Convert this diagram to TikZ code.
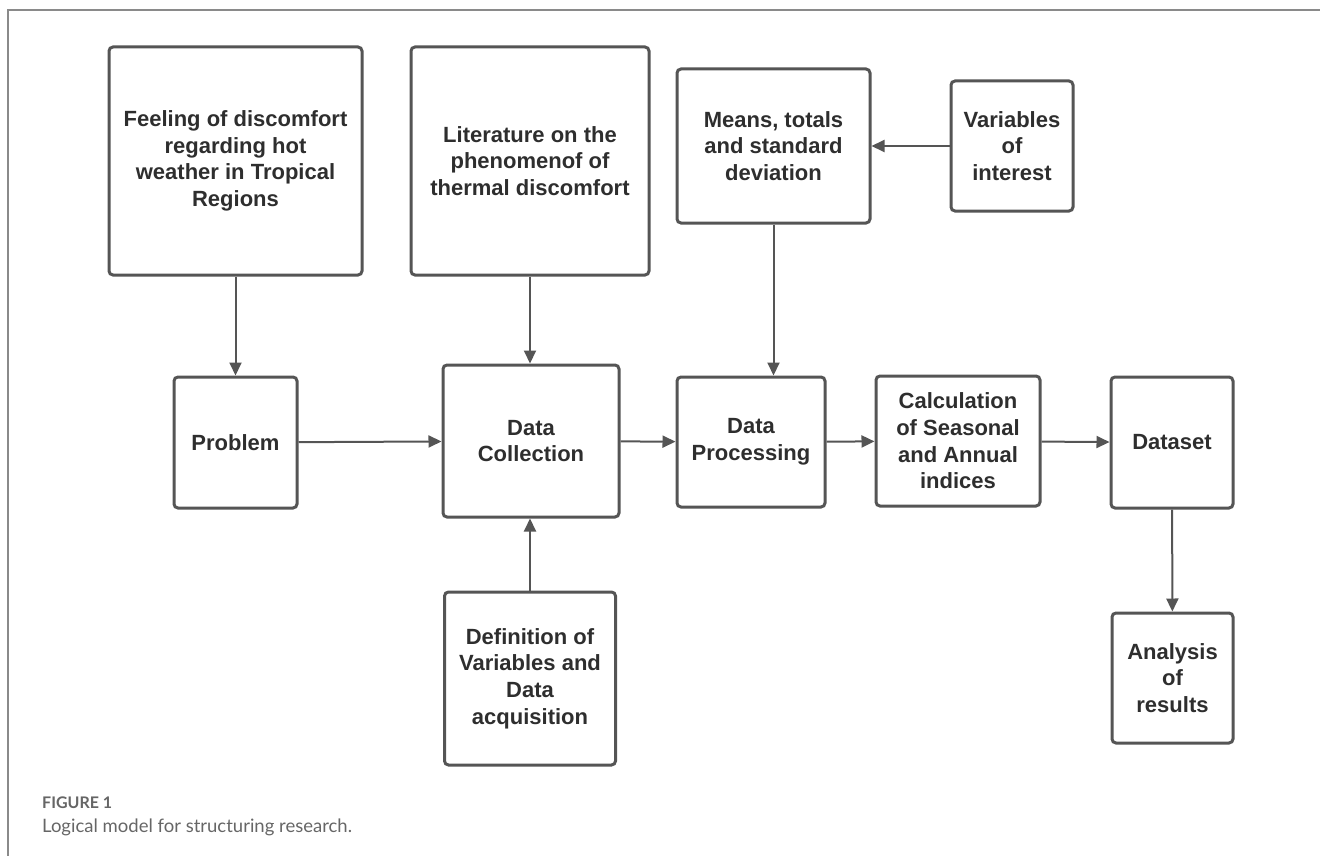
\documentclass[tikz,border=0pt]{standalone}
\usepackage{fontspec}
\setmainfont{Liberation Sans}
\newfontfamily\capfont{Lato}
\usepackage{tikz}
\usetikzlibrary{arrows.meta,positioning,calc}

\definecolor{boxgray}{HTML}{555555}
\definecolor{textgray}{HTML}{2E2E2E}
\definecolor{framegray}{HTML}{8A8A8A}
\definecolor{capgray}{HTML}{666666}

\begin{document}
\begin{tikzpicture}[x=1pt,y=-1pt,
    stepbox/.style={rectangle,draw=boxgray,line width=3pt,rounded corners=4pt,
      text=textgray,align=center,inner sep=0pt,
      font=\fontsize{22}{26.7}\selectfont\bfseries},
    link/.style={draw=boxgray,line width=2pt,-{Triangle[length=13pt,width=12pt]}}]
          \useasboundingbox (0,0) rectangle (1320,856);

          % Draw the frame
          \draw[framegray,line width=2pt] (8,856) -- (8,10) -- (1320,10);

          % Draw the boxes
          \node[stepbox,minimum width=253,minimum height=228] (feel) at (235.5,161) {Feeling of discomfort\\regarding hot\\weather in Tropical\\Regions};
          \node[stepbox,minimum width=238,minimum height=228] (lit) at (530,161) {Literature on the\\phenomenof of\\thermal discomfort};
          \node[stepbox,minimum width=193,minimum height=154] (means) at (773.5,146) {Means, totals\\and standard\\deviation};
          \node[stepbox,minimum width=122,minimum height=130] (vars) at (1012,146) {Variables\\of\\interest};
          \node[stepbox,minimum width=123,minimum height=131] (prob) at (235.5,442.5) {Problem};
          \node[stepbox,minimum width=176,minimum height=152] (coll) at (531,441) {Data\\Collection};
          \node[stepbox,minimum width=148,minimum height=130] (proc) at (751,442) {Data\\Processing};
          \node[stepbox,minimum width=164,minimum height=130] (calc) at (958,441) {Calculation\\of Seasonal\\and Annual\\indices};
          \node[stepbox,minimum width=122,minimum height=131] (dset) at (1172,442.5) {Dataset};
          \node[stepbox,minimum width=171,minimum height=173] (defn) at (530,678.5) {Definition of\\Variables and\\Data\\acquisition};
          \node[stepbox,minimum width=121,minimum height=130] (anal) at (1172.5,678) {Analysis\\of\\results};

          % Draw the arrows
          \draw[link] (feel) -- (prob);
          \draw[link] (lit) -- (lit |- coll.north);
          \draw[link] (defn) -- (defn |- coll.south);
          \draw[link] (prob) -- (coll);
          \draw[link] (coll) -- (proc);
          \draw[link] (proc) -- (calc);
          \draw[link] (calc) -- (dset);
          \draw[link] (vars) -- (means);
          \draw[link] (means) -- (means |- proc.north);
          \draw[link] (dset) -- (anal);

          % Caption
          \node[anchor=west,inner sep=0pt,text=capgray,font=\capfont\bfseries\fontsize{16}{19}\selectfont] (fig) at (42,803) {FIGURE 1};
          \node[anchor=west,inner sep=0pt,text=capgray,font=\capfont\fontsize{18.5}{22}\selectfont] (cap) at (42,827) {Logical model for structuring research.};
\end{tikzpicture}
\end{document}
